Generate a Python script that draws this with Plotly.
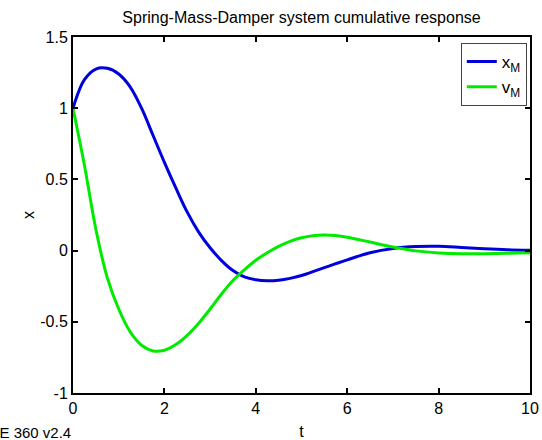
import plotly.graph_objects as go

# Time samples (s)
t = [0, 0.25, 0.5, 0.75, 1.0, 1.25, 1.5, 1.75, 2.0, 2.25, 2.5, 2.75, 3.0, 3.25, 3.5,
     3.75, 4.0, 4.25, 4.5, 4.75, 5.0, 5.25, 5.5, 5.75, 6.0, 6.5, 7.0, 7.5, 8.0, 8.5,
     9.0, 9.5, 10.0]

# Displacement x_M
x_M = [1.00, 1.20, 1.275, 1.28, 1.24, 1.15, 1.00, 0.81, 0.62, 0.44, 0.27, 0.13, 0.02,
       -0.07, -0.14, -0.185, -0.205, -0.212, -0.208, -0.195, -0.175, -0.148, -0.12,
       -0.092, -0.065, -0.015, 0.015, 0.028, 0.03, 0.022, 0.013, 0.006, 0.002]

# Velocity v_M
v_M = [1.00, 0.60, 0.15, -0.19, -0.41, -0.57, -0.665, -0.705, -0.70, -0.66, -0.595,
       -0.51, -0.41, -0.305, -0.21, -0.135, -0.068, -0.015, 0.03, 0.065, 0.09, 0.105,
       0.11, 0.106, 0.094, 0.06, 0.025, -0.002, -0.016, -0.022, -0.022, -0.019, -0.015]

x_ticks = [0, 2, 4, 6, 8, 10]
y_ticks = [-1, -0.5, 0, 0.5, 1, 1.5]
y_tick_text = ["-1", "-0.5", "0", "0.5", "1", "1.5"]

font = "Liberation Sans, Arial, sans-serif"

fig = go.Figure()
fig.add_trace(go.Scatter(x=t, y=x_M, mode="lines", name="x<sub>M</sub>",
                         line=dict(color="rgb(0,0,220)", width=3, shape="spline", smoothing=1)))
fig.add_trace(go.Scatter(x=t, y=v_M, mode="lines", name="v<sub>M</sub>",
                         line=dict(color="rgb(0,235,0)", width=3, shape="spline", smoothing=1)))

axis_common = dict(showline=True, linecolor="black", linewidth=2, mirror="ticks",
                   ticks="inside", ticklen=5, tickwidth=2, tickcolor="black",
                   showgrid=False, zeroline=False, automargin=False,
                   tickfont=dict(family=font, size=16, color="black"))

fig.update_layout(
    width=542, height=440,
    margin=dict(l=73, r=12, t=37, b=47),
    paper_bgcolor="white", plot_bgcolor="white",
    title=dict(text="Spring-Mass-Damper system cumulative response",
               x=(73 + 530) / 2 / 542, xanchor="center", y=1 - 17 / 440, yanchor="middle",
               font=dict(family=font, size=16, color="black"), automargin=False),
    xaxis=dict(range=[0, 10], tickvals=x_ticks, ticktext=[str(v) for v in x_ticks],
               title=dict(text="t", font=dict(family=font, size=16, color="black"), standoff=10),
               **axis_common),
    yaxis=dict(range=[-1, 1.5], tickvals=y_ticks, ticktext=y_tick_text,
               title=dict(text="x", font=dict(family=font, size=16, color="black"), standoff=2),
               **axis_common),
    legend=dict(x=0.993, y=0.983, xanchor="right", yanchor="top",
                bordercolor="#444", borderwidth=1, bgcolor="white",
                font=dict(family=font, size=17, color="black"),
                itemwidth=30),
    showlegend=True,
)

fig.add_annotation(text="ME 360 v2.4", xref="paper", yref="paper", x=0, y=-0.082,
                   xanchor="right", yanchor="top", showarrow=False,
                   font=dict(family=font, size=15, color="black"))

fig.write_html("out.html", config={"displayModeBar": False},
               post_script="document.body.style.margin='0';")
